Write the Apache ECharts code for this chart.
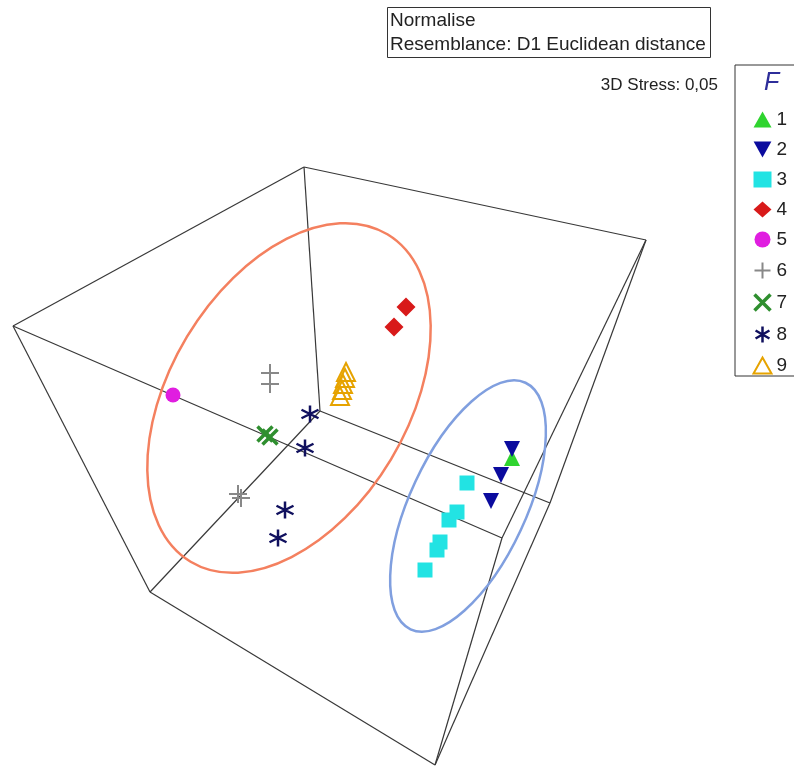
<!DOCTYPE html>
<html>
<head>
<meta charset="utf-8">
<title>3D MDS ordination</title>
<script src="https://cdn.jsdelivr.net/npm/echarts@6/dist/echarts.min.js"></script>
<style>
  html, body { margin: 0; padding: 0; background: #ffffff; }
  #chart { width: 794px; height: 768px; }
</style>
</head>
<body>
<div id="chart"></div>
<script>
// Ordination points projected onto the viewing plane (plane units, y grows downward)
const groupNames = ['1', '2', '3', '4', '5', '6', '7', '8', '9'];
const group1 = [[512, 458]];
const group2 = [[512, 449], [501, 475], [491, 501]];
const group3 = [[467, 483], [457, 512], [449, 520], [440, 542], [437, 550], [425, 570]];
const group4 = [[406, 307], [394, 327]];
const group5 = [[173, 395]];
const group6 = [[270, 373], [270, 384], [238, 494], [241, 498]];
const group7 = [[265, 434], [270, 437]];
const group8 = [[310, 414], [305, 448], [285, 510], [278, 538]];
const group9 = [[346, 372], [345, 378], [343, 384], [342, 390], [340, 396]];

// Corners of the bounding cube in the same plane, and the edges joining them
const cubeCorners = [[13, 326], [304, 167], [646, 240], [150, 592], [435, 765], [320, 411], [550, 503], [502, 538]];
const cubeEdges = [[0, 1], [1, 2], [0, 3], [1, 5], [5, 3], [5, 6], [0, 7], [3, 4], [2, 6], [2, 7], [4, 7], [4, 6]];

// Cluster outlines: centre x, centre y, semi-major, semi-minor, tilt (degrees)
const clusterOutlines = [[289, 398, 191, 119, 59], [468, 506, 136, 58, 65]];
const outlineColors = ['#f4805f', '#809fdf'];

const headerLines = ['Normalise', 'Resemblance: D1 Euclidean distance'];
const stressLabel = '3D Stress: 0,05';
const legendTitle = 'F';

const FONT = '"Liberation Sans", Arial, sans-serif';

const symbolStyles = [
  { symbol: 'triangle', size: 16, itemStyle: { color: '#2fd42f' } },
  { symbol: 'path://M0,0L10,0L5,9Z', size: 16, itemStyle: { color: '#0b0b9e' } },
  { symbol: 'rect', size: 15, itemStyle: { color: '#22e3e3' } },
  { symbol: 'diamond', size: 19, itemStyle: { color: '#d81a1a' } },
  { symbol: 'circle', size: 15, itemStyle: { color: '#e01ee0' } },
  { symbol: 'path://M0,5L10,5M5,0L5,10', size: 18, itemStyle: { color: 'none', borderColor: '#888888', borderWidth: 2 } },
  { symbol: 'path://M0,0L10,10M10,0L0,10', size: 15, itemStyle: { color: 'none', borderColor: '#2f8f2f', borderWidth: 3.5 } },
  { symbol: 'path://M5,0L5,10M0.67,2.5L9.33,7.5M0.67,7.5L9.33,2.5', size: 17, itemStyle: { color: 'none', borderColor: '#10105e', borderWidth: 2.5 } },
  { symbol: 'triangle', size: 18, itemStyle: { color: 'rgba(255,255,255,0)', borderColor: '#e6a300', borderWidth: 2 } }
];
const groups = [group1, group2, group3, group4, group5, group6, group7, group8, group9];

const pointSeries = groups.map((pts, i) => ({
  name: groupNames[i],
  type: 'scatter',
  data: pts,
  symbol: symbolStyles[i].symbol,
  symbolSize: symbolStyles[i].size,
  itemStyle: Object.assign({ opacity: 1 }, symbolStyles[i].itemStyle),
  z: 5,
  silent: true
}));

const edgeData = cubeEdges.map(e => ({ coords: [cubeCorners[e[0]], cubeCorners[e[1]]] }));

const outlineSeries = {
  type: 'custom',
  data: clusterOutlines,
  encode: { x: 0, y: 1 },
  silent: true,
  z: 3,
  renderItem: function (params, api) {
    const c = api.coord([api.value(0), api.value(1)]);
    const s = api.size([api.value(2), api.value(3)]);
    return {
      type: 'ellipse',
      x: c[0],
      y: c[1],
      rotation: api.value(4) * Math.PI / 180,
      shape: { cx: 0, cy: 0, rx: s[0], ry: s[1] },
      style: { fill: 'none', stroke: outlineColors[params.dataIndex], lineWidth: 2.5 }
    };
  }
};

const legendData = groupNames.map((n, i) => ({
  name: n,
  icon: symbolStyles[i].symbol,
  itemStyle: Object.assign({}, symbolStyles[i].itemStyle)
}));

const chart = echarts.init(document.getElementById('chart'), null, { renderer: 'canvas' });
chart.setOption({
  animation: false,
  backgroundColor: '#ffffff',
  grid: { left: 0, right: 0, top: 0, bottom: 0 },
  xAxis: { type: 'value', min: 0, max: 794, show: false },
  yAxis: { type: 'value', min: 0, max: 768, inverse: true, show: false },
  title: [
    {
      text: headerLines.join('\n'),
      left: 387, top: 7,
      padding: [2, 5, 1, 3],
      borderColor: '#333333', borderWidth: 1,
      textStyle: { fontFamily: FONT, fontSize: 19, fontWeight: 'normal', color: '#222222', lineHeight: 24 }
    },
    {
      text: stressLabel,
      right: 76, top: 77,
      padding: 0,
      textStyle: { fontFamily: FONT, fontSize: 17, fontWeight: 'normal', color: '#222222' }
    },
    {
      text: legendTitle,
      left: 764, top: 71,
      padding: 0,
      textStyle: { fontFamily: FONT, fontSize: 25, fontWeight: 'normal', fontStyle: 'italic', color: '#2e2e9a' }
    }
  ],
  legend: {
    orient: 'vertical',
    left: 735, top: 65,
    padding: [45, 30, 1, 17],
    borderColor: '#333333', borderWidth: 1,
    itemWidth: 18, itemHeight: 16, itemGap: 11,
    selectedMode: false,
    textStyle: { fontFamily: FONT, fontSize: 19, color: '#222222' },
    data: legendData
  },
  series: [
    {
      type: 'lines',
      coordinateSystem: 'cartesian2d',
      data: edgeData,
      silent: true,
      z: 1,
      lineStyle: { color: '#383838', width: 1.2, opacity: 1, curveness: 0 }
    },
    outlineSeries
  ].concat(pointSeries)
});
</script>
</body>
</html>
